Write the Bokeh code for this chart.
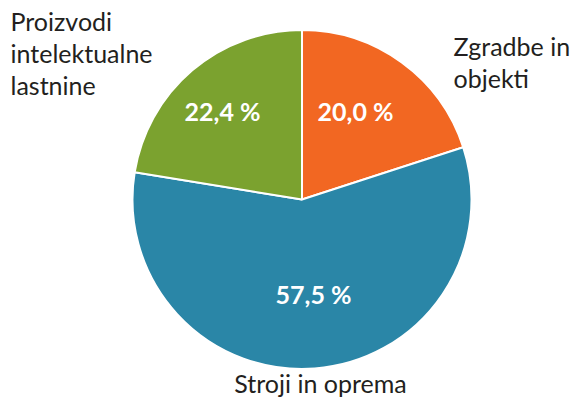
import math
from bokeh.plotting import figure
from bokeh.models import Range1d, ColumnDataSource
from bokeh.core.properties import value
from bokeh.embed import file_html
from bokeh.resources import INLINE

# data
categories = ["Zgradbe in\nobjekti", "Stroji in oprema", "Proizvodi\nintelektualne\nlastnine"]
shares = [20.0, 57.5, 22.4]
share_labels = ["20,0 %", "57,5 %", "22,4 %"]
colors = ["#F26722", "#2A86A7", "#7BA22F"]

# layout (pixel-like units, y measured upward from the bottom of a 400px canvas)
W, H = 574, 400
cx, cy, R = 301.5, 201, 169.5
inner_pos = [(355, 290), (313, 107), (222, 290)]
outer_pos = [(453, 370), (320, 3), (10, 395)]
outer_align = ["left", "center", "left"]
outer_base = ["top", "bottom", "top"]

total = sum(shares)
starts, ends = [], []
a = math.pi / 2
for s in shares:
    e = a - s / total * 2 * math.pi
    starts.append(e)
    ends.append(a)
    a = e

p = figure(width=W, height=H, x_range=Range1d(0, W), y_range=Range1d(400 - H, 400),
           output_backend="svg", toolbar_location=None, min_border=0)
p.axis.visible = False
p.grid.visible = False
p.outline_line_color = None

src = ColumnDataSource(dict(start=starts, end=ends, color=colors))
p.wedge(x=cx, y=cy, radius=R, start_angle="start", end_angle="end", fill_color="color",
        line_color="white", line_width=2, source=src)

p.text(x=[q[0] for q in inner_pos], y=[q[1] for q in inner_pos], text=share_labels,
       text_color="white", text_font=value("Lato"), text_font_style="bold",
       text_font_size="25px", text_align="center", text_baseline="middle")

for (x, y), t, al, bl in zip(outer_pos, categories, outer_align, outer_base):
    p.text(x=[x], y=[y], text=[t], text_color="#231F20", text_font=value("Lato"),
           text_font_size="25px", text_align=al, text_baseline=bl, text_line_height=1.07)

open("out.html", "w").write(file_html(p, INLINE))
